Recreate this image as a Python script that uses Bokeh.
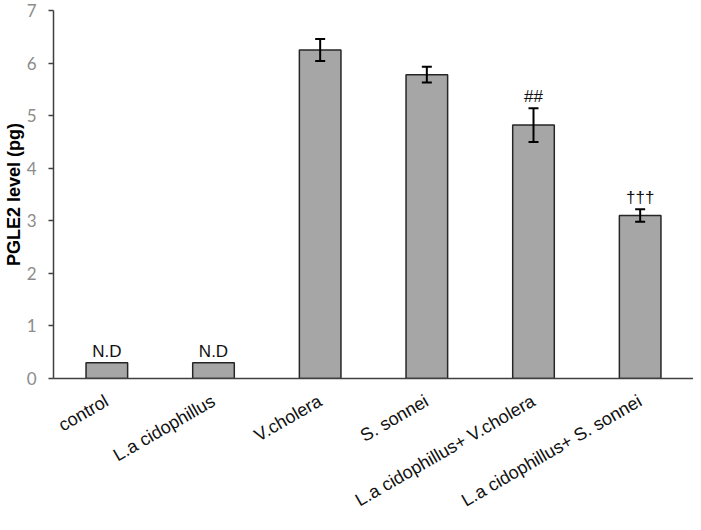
import math
from bokeh.plotting import figure
from bokeh.models import FactorRange, Range1d, ColumnDataSource, Whisker, TeeHead, FixedTicker
from bokeh.core.properties import value
from bokeh.embed import file_html
from bokeh.resources import INLINE

categories = ["control", "L.a cidophillus", "V.cholera", "S. sonnei",
              "L.a cidophillus+ V.cholera", "L.a cidophillus+ S. sonnei"]
pgle2 = [0.3, 0.3, 6.25, 5.78, 4.82, 3.10]
errors = [0.0, 0.0, 0.21, 0.15, 0.32, 0.12]
marks = ["N.D", "N.D", "", "", "##", "†††"]
y_ticks = [0, 1, 2, 3, 4, 5, 6, 7]

src = ColumnDataSource(data=dict(cat=categories, val=pgle2))

err_idx = [i for i, e in enumerate(errors) if e > 0]
err_src = ColumnDataSource(data=dict(
    cat=[categories[i] for i in err_idx],
    upper=[pgle2[i] + errors[i] for i in err_idx],
    lower=[pgle2[i] - errors[i] for i in err_idx],
))

lab_idx = [i for i, m in enumerate(marks) if m]
lab_src = ColumnDataSource(data=dict(
    cat=[categories[i] for i in lab_idx],
    y=[pgle2[i] + errors[i] + 0.22 for i in lab_idx],
    text=[marks[i] for i in lab_idx],
))

p = figure(x_range=FactorRange(factors=categories), y_range=Range1d(0, 7),
           width=693, height=522, output_backend="svg", toolbar_location=None,
           min_border_left=47, min_border_right=0, min_border_top=10,
           min_border_bottom=136)

p.vbar(x="cat", top="val", width=0.39, source=src,
       fill_color="#a6a6a6", line_color="#262626", line_width=1.5)

w = Whisker(base="cat", upper="upper", lower="lower", source=err_src,
            line_color="black", line_width=2,
            upper_head=TeeHead(size=10, line_width=2, line_color="black"),
            lower_head=TeeHead(size=10, line_width=2, line_color="black"))
w.level = "overlay"
p.add_layout(w)

p.text(x="cat", y="y", text="text", source=lab_src, text_align="center",
       text_baseline="alphabetic", text_font=value("Liberation Sans"),
       text_font_size="17px", text_color="#111111")

p.xgrid.grid_line_color = None
p.ygrid.grid_line_color = None
p.outline_line_color = None

p.xaxis.major_label_orientation = math.pi / 6
p.xaxis.major_tick_line_color = None
p.xaxis.minor_tick_line_color = None
p.xaxis.axis_line_color = "#404040"
p.xaxis.axis_line_width = 1.5
p.xaxis.major_label_text_font = "Liberation Sans"
p.xaxis.major_label_text_font_size = "18px"
p.xaxis.major_label_text_color = "#111111"
p.xaxis.major_label_standoff = 15

p.yaxis.ticker = FixedTicker(ticks=y_ticks)
p.yaxis.minor_tick_line_color = None
p.yaxis.major_tick_in = 0
p.yaxis.major_tick_out = 5
p.yaxis.major_tick_line_color = "#404040"
p.yaxis.major_tick_line_width = 1.5
p.yaxis.axis_line_color = "#404040"
p.yaxis.axis_line_width = 1.5
p.yaxis.major_label_text_font = "Lato"
p.yaxis.major_label_text_font_size = "17px"
p.yaxis.major_label_text_color = "#8c8c8c"
p.yaxis.major_label_standoff = 12
p.yaxis.axis_label = "PGLE2 level (pg)"
p.yaxis.axis_label_text_font = "Liberation Sans"
p.yaxis.axis_label_text_font_style = "bold"
p.yaxis.axis_label_text_font_size = "18px"
p.yaxis.axis_label_text_color = "#000000"
p.yaxis.axis_label_standoff = 0

open("out.html", "w").write(file_html(p, INLINE))
